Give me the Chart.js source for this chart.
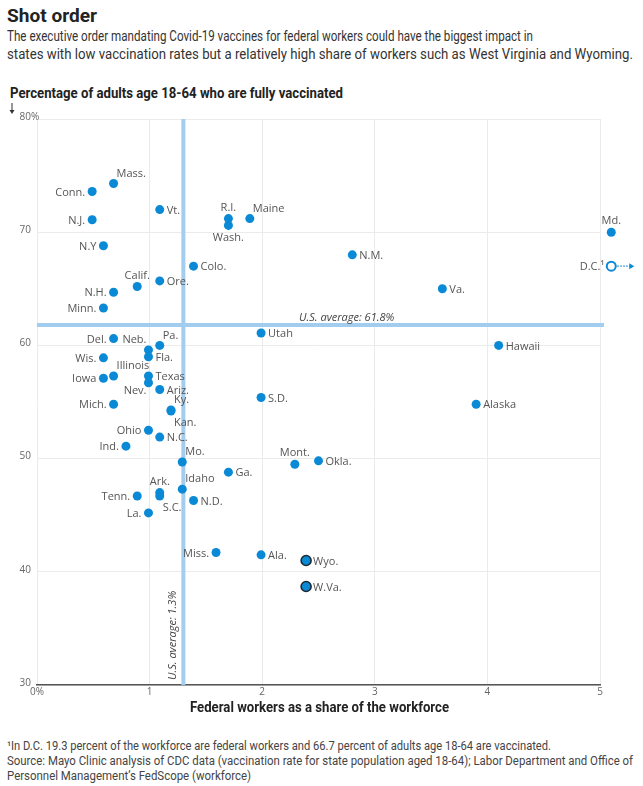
<!DOCTYPE html>
<html>
<head>
<meta charset="utf-8">
<script src="https://cdn.jsdelivr.net/npm/chart.js@4.4.1/dist/chart.umd.min.js"></script>
<style>
  body { margin: 0; background: #fff; font-family: "Roboto", "Liberation Sans", sans-serif; color: #333; }
  #page { position: relative; width: 643px; height: 786px; overflow: hidden; }
  .fit { position: absolute; white-space: nowrap; line-height: 16px; transform-origin: 0 50%; }
  .t { font-size: 19px; line-height: 20px; font-weight: bold; color: #222; }
  .d { font-size: 14px; color: #333; }
  .ax { font-size: 15px; font-weight: bold; color: #222; }
  .n { font-size: 12px; color: #444; }
  #wrap { position: absolute; left: 0; top: 80px; width: 643px; height: 640px; }
</style>
</head>
<body>
<div id="page">
  <div class="fit t" data-w="90" style="left:7px;top:6px">Shot order</div>
  <div class="fit d" data-w="526" style="left:7px;top:28px">The executive order mandating Covid-19 vaccines for federal workers could have the biggest impact in</div>
  <div class="fit d" data-w="626" style="left:7px;top:46px">states with low vaccination rates but a relatively high share of workers such as West Virginia and Wyoming.</div>
  <div class="fit ax" data-w="333" style="left:10px;top:85px">Percentage of adults age 18-64 who are fully vaccinated</div>
  <div id="wrap"><canvas id="chart"></canvas></div>
  <div class="fit ax" data-w="259" style="left:190px;top:699px">Federal workers as a share of the workforce</div>
  <div class="fit n" data-w="544" style="left:7px;top:738px">¹In D.C. 19.3 percent of the workforce are federal workers and 66.7 percent of adults age 18-64 are vaccinated.</div>
  <div class="fit n" data-w="626" style="left:7px;top:753px">Source: Mayo Clinic analysis of CDC data (vaccination rate for state population aged 18-64); Labor Department and Office of</div>
  <div class="fit n" data-w="244" style="left:7px;top:768px">Personnel Management’s FedScope (workforce)</div>
</div>
<script>
// squeeze each text line to the narrow width of the original type
document.querySelectorAll('.fit').forEach(el => {
  const w = el.getBoundingClientRect().width;
  el.style.transform = 'scaleX(' + (Number(el.dataset.w) / w) + ')';
});

// data
const states = ['Mass.', 'Conn.', 'N.J.', 'Vt.', 'R.I.', 'Wash.', 'Maine', 'Md.', 'D.C.', 'N.Y', 'Colo.', 'Calif.', 'Ore.', 'N.H.', 'Minn.',
  'N.M.', 'Va.', 'Utah', 'Del.', 'Pa.', 'Neb.', 'Fla.', 'Wis.', 'Hawaii', 'Illinois', 'Iowa', 'Texas', 'Nev.', 'Ariz.', 'Mich.',
  'Ky.', 'Kan.', 'S.D.', 'Alaska', 'Ohio', 'N.C.', 'Ind.', 'Mo.', 'Ga.', 'Mont.', 'Okla.', 'Ark.', 'Idaho', 'Tenn.', 'S.C.',
  'N.D.', 'La.', 'Miss.', 'Ala.', 'Wyo.', 'W.Va.'];
const fedShare = [0.68, 0.49, 0.49, 1.09, 1.70, 1.70, 1.89, 5.1, 5.1, 0.59, 1.39, 0.89, 1.09, 0.68, 0.59,
  2.80, 3.60, 1.99, 0.68, 1.09, 0.99, 0.99, 0.59, 4.10, 0.68, 0.59, 0.99, 0.99, 1.09, 0.68,
  1.19, 1.19, 1.99, 3.90, 0.99, 1.09, 0.79, 1.29, 1.70, 2.29, 2.50, 1.09, 1.29, 0.89, 1.09,
  1.39, 0.99, 1.59, 1.99, 2.39, 2.39];
const vaccinated = [74.3, 73.6, 71.1, 72.0, 71.2, 70.6, 71.2, 70.0, 67.0, 68.8, 67.0, 65.2, 65.7, 64.7, 63.3,
  68.0, 65.0, 61.1, 60.6, 60.0, 59.6, 59.0, 58.9, 60.0, 57.3, 57.1, 57.3, 56.7, 56.1, 54.8,
  54.3, 54.2, 55.4, 54.8, 52.5, 51.9, 51.1, 49.7, 48.8, 49.5, 49.8, 47.0, 47.3, 46.7, 46.7,
  46.3, 45.2, 41.7, 41.5, 41.0, 38.7];
const xTicks = [0, 1, 2, 3, 4, 5];
const yTicks = [30, 40, 50, 60, 70, 80];
const usAvgShare = 1.3;
const usAvgVacc = 61.8;

// where each label sits around its dot
const labelPos = {
  'Mass.': 'tr', 'Conn.': 'l', 'N.J.': 'l', 'Vt.': 'r', 'R.I.': 't', 'Wash.': 'b', 'Maine': 'tr', 'Md.': 't', 'D.C.': 'l',
  'N.Y': 'l', 'Colo.': 'r', 'Calif.': 't', 'Ore.': 'r', 'N.H.': 'l', 'Minn.': 'l', 'N.M.': 'r', 'Va.': 'r', 'Utah': 'r',
  'Del.': 'l', 'Pa.': 'tr', 'Neb.': 'tl', 'Fla.': 'r', 'Wis.': 'l', 'Hawaii': 'r', 'Illinois': 'tr', 'Iowa': 'l', 'Texas': 'r',
  'Nev.': 'bl', 'Ariz.': 'r', 'Mich.': 'l', 'Ky.': 'tr', 'Kan.': 'br', 'S.D.': 'r', 'Alaska': 'r', 'Ohio': 'l', 'N.C.': 'r',
  'Ind.': 'l', 'Mo.': 'tr', 'Ga.': 'r', 'Mont.': 't', 'Okla.': 'r', 'Ark.': 't', 'Idaho': 'tr', 'Tenn.': 'l', 'S.C.': 'br',
  'N.D.': 'r', 'La.': 'l', 'Miss.': 'l', 'Ala.': 'r', 'Wyo.': 'r', 'W.Va.': 'r'
};
const highlight = ['Wyo.', 'W.Va.'];
const offScale = ['D.C.'];

const blue = '#0a8ad6';
const avgBlue = '#a3cdee';

const points = states.map((s, i) => ({ x: fedShare[i], y: vaccinated[i] }));

let savedArea = null;
const extras = {
  id: 'extras',
  beforeDatasetsDraw(chart) {
    const { ctx, chartArea: a, scales: { x, y } } = chart;
    ctx.save();
    ctx.strokeStyle = avgBlue;
    ctx.lineWidth = 4;
    const ax = x.getPixelForValue(usAvgShare);
    const ay = y.getPixelForValue(usAvgVacc);
    ctx.beginPath();
    ctx.moveTo(ax, a.top);
    ctx.lineTo(ax, a.bottom);
    ctx.moveTo(a.left, ay);
    ctx.lineTo(a.right + 4, ay);
    ctx.stroke();

    ctx.fillStyle = '#444';
    ctx.font = 'italic 11px "Open Sans"';
    ctx.textAlign = 'center';
    ctx.textBaseline = 'alphabetic';
    ctx.fillText('U.S. average: 61.8%', x.getPixelForValue(2.75), ay - 4);
    ctx.save();
    ctx.translate(ax - 7, a.bottom - 5);
    ctx.rotate(-Math.PI / 2);
    ctx.textAlign = 'left';
    ctx.fillText('U.S. average: 1.3%', 0, 0);
    ctx.restore();

    // y tick labels, the % hangs off the top one
    ctx.fillStyle = '#666';
    ctx.font = '10px "Open Sans"';
    ctx.textBaseline = 'middle';
    yTicks.forEach(v => {
      const py = y.getPixelForValue(v) - 2;
      ctx.textAlign = 'right';
      ctx.fillText(String(v), a.left - 6, py);
      if (v === 80) { ctx.textAlign = 'left'; ctx.fillText('%', a.left - 6, py); }
    });

    // little arrow under the y title
    const arX = 12;
    ctx.strokeStyle = '#333';
    ctx.fillStyle = '#333';
    ctx.lineWidth = 1;
    ctx.beginPath();
    ctx.moveTo(arX, a.top - 16);
    ctx.lineTo(arX, a.top - 8);
    ctx.stroke();
    ctx.beginPath();
    ctx.moveTo(arX - 2.5, a.top - 9);
    ctx.lineTo(arX + 2.5, a.top - 9);
    ctx.lineTo(arX, a.top - 5);
    ctx.fill();
    ctx.restore();

    // let the points past the 5% edge (Md., D.C.) be drawn
    savedArea = chart.chartArea;
    chart.chartArea = { ...a, right: a.right + 30 };
  },
  afterDatasetsDraw(chart) {
    if (savedArea) chart.chartArea = savedArea;
    const { ctx } = chart;
    const meta = chart.getDatasetMeta(0);
    ctx.save();
    ctx.font = '11px "Open Sans"';
    ctx.fillStyle = '#555';
    meta.data.forEach((pt, i) => {
      const name = states[i];
      const txt = offScale.includes(name) ? name + '¹' : name;
      const pos = labelPos[name] || 'r';
      let tx = pt.x, ty = pt.y;
      ctx.textBaseline = 'middle';
      if (pos === 'r') { ctx.textAlign = 'left'; tx += 7; ty += 1; }
      else if (pos === 'l') { ctx.textAlign = 'right'; tx -= 7; ty += 1; }
      else if (pos === 't') { ctx.textAlign = 'center'; ty -= 11; }
      else if (pos === 'b') { ctx.textAlign = 'center'; ty += 12; }
      else if (pos === 'tr') { ctx.textAlign = 'left'; tx += 3; ty -= 10; }
      else if (pos === 'tl') { ctx.textAlign = 'right'; tx -= 2; ty -= 10; }
      else if (pos === 'br') { ctx.textAlign = 'left'; tx += 3; ty += 12; }
      else if (pos === 'bl') { ctx.textAlign = 'right'; tx -= 2; ty += 8; }
      ctx.fillText(txt, tx, ty);
      if (offScale.includes(name)) {
        // dotted arrow pointing off the scale
        ctx.strokeStyle = blue;
        ctx.lineWidth = 1.2;
        ctx.setLineDash([1.5, 1.5]);
        ctx.beginPath();
        ctx.moveTo(pt.x + 6, pt.y);
        ctx.lineTo(pt.x + 19, pt.y);
        ctx.stroke();
        ctx.setLineDash([]);
        ctx.fillStyle = blue;
        ctx.beginPath();
        ctx.moveTo(pt.x + 18, pt.y - 3);
        ctx.lineTo(pt.x + 23, pt.y);
        ctx.lineTo(pt.x + 18, pt.y + 3);
        ctx.fill();
        ctx.fillStyle = '#555';
      }
    });
    ctx.restore();
  }
};

const ctx = document.getElementById('chart').getContext('2d');
const chart = new Chart(ctx, {
  type: 'scatter',
  data: {
    datasets: [{
      data: points,
      clip: false,
      pointRadius: c => highlight.includes(states[c.dataIndex]) ? 5 : 4.5,
      pointHoverRadius: c => highlight.includes(states[c.dataIndex]) ? 5 : 4.5,
      backgroundColor: c => offScale.includes(states[c.dataIndex]) ? '#fff' : blue,
      borderColor: c => highlight.includes(states[c.dataIndex]) ? '#1d2a33' : blue,
      borderWidth: c => highlight.includes(states[c.dataIndex]) ? 1.6 : (offScale.includes(states[c.dataIndex]) ? 2 : 0)
    }]
  },
  options: {
    responsive: true,
    maintainAspectRatio: false,
    animation: false,
    layout: { padding: { top: 39, right: 43, left: 0, bottom: 0 } },
    plugins: { legend: { display: false }, tooltip: { enabled: false } },
    scales: {
      x: {
        type: 'linear', min: 0, max: 5,
        afterBuildTicks: s => { s.ticks = xTicks.map(v => ({ value: v })); },
        afterFit: s => { s.height = 35; },
        grid: { color: '#ebebeb', lineWidth: 1, drawTicks: false },
        border: { color: '#555', width: 1.5 },
        ticks: {
          color: '#666', font: { family: 'Open Sans', size: 10 }, padding: 1,
          callback: v => v === 0 ? '0%' : String(v)
        }
      },
      y: {
        type: 'linear', min: 30, max: 80,
        afterBuildTicks: s => { s.ticks = yTicks.map(v => ({ value: v })); },
        afterFit: s => { s.width = 37; },
        grid: { color: '#ebebeb', lineWidth: 1, drawTicks: false },
        border: { display: false },
        ticks: { display: false }
      }
    }
  },
  plugins: [extras]
});
</script>
</body>
</html>
